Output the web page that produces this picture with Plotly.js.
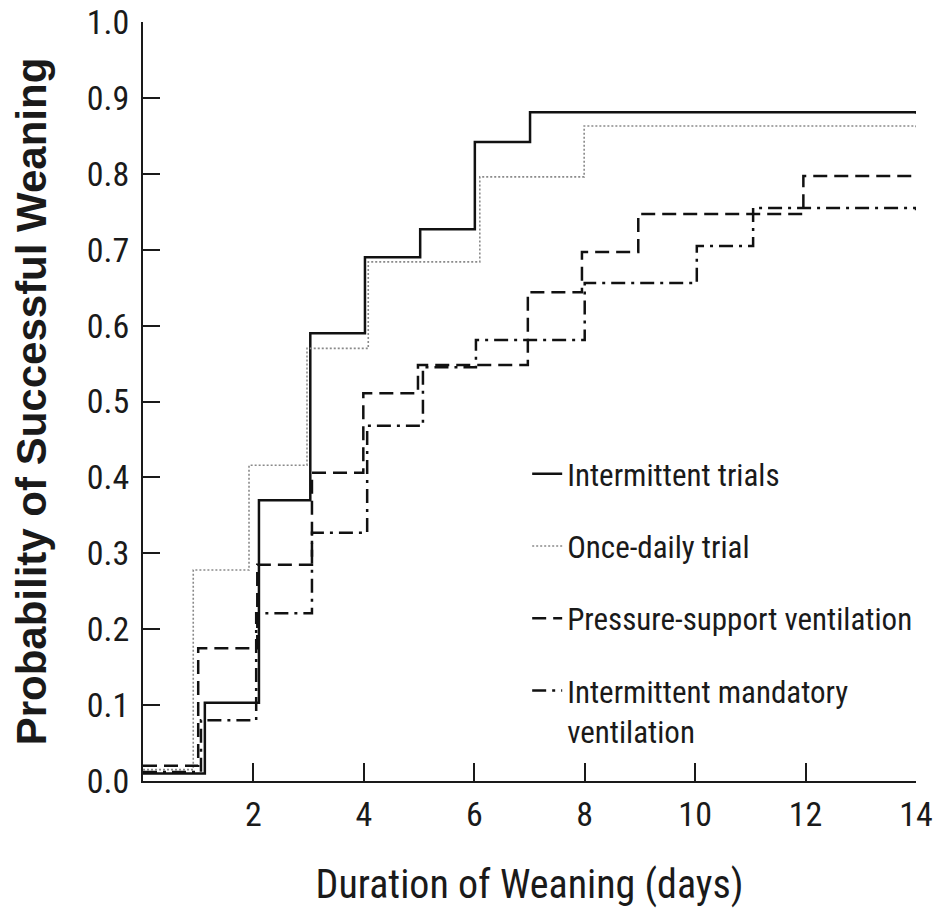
<!DOCTYPE html>
<html>
<head>
<meta charset="utf-8">
<script src="https://cdn.plot.ly/plotly-3.0.1.min.js"></script>
<style>
  html, body { margin: 0; padding: 0; background: #fff; }
  #chart { width: 943px; height: 921px; }
</style>
</head>
<body>
<div id="chart"></div>
<script>
// Kaplan-Meier style step data (days, probability)
const itDays  = [0, 1.12, 2.1, 3.03, 4.02, 5.02, 6.01, 7.01, 14];
const itProb  = [0.01, 0.103, 0.37, 0.59, 0.69, 0.727, 0.842, 0.881, 0.879];

const odDays  = [0, 0.91, 1.92, 2.97, 4.08, 6.1, 7.99, 14];
const odProb  = [0.015, 0.278, 0.416, 0.57, 0.684, 0.796, 0.863, 0.861];

const psvDays = [0, 1.0, 2.07, 3.06, 3.99, 4.98, 6.97, 7.95, 8.97, 11.96, 14];
const psvProb = [0.02, 0.175, 0.285, 0.406, 0.511, 0.548, 0.644, 0.697, 0.747, 0.797, 0.797];

const imvDays = [0, 1.05, 2.05, 3.06, 4.06, 5.07, 6.03, 8.0, 10.03, 11.05, 14];
const imvProb = [0.012, 0.08, 0.221, 0.327, 0.468, 0.545, 0.581, 0.656, 0.705, 0.755, 0.752];

const seriesNames = ["Intermittent trials", "Once-daily trial", "Pressure-support ventilation", "Intermittent mandatory<br>ventilation"];

const xTickVals = [2, 4, 6, 8, 10, 12, 14];
const xTickText = ["2", "4", "6", "8", "10", "12", "14"];
const yTickVals = [0, 0.1, 0.2, 0.3, 0.4, 0.5, 0.6, 0.7, 0.8, 0.9, 1.0];
const yTickText = ["0.0", "0.1", "0.2", "0.3", "0.4", "0.5", "0.6", "0.7", "0.8", "0.9", "1.0"];

const narrow = '"Roboto Condensed", "DejaVu Sans Condensed", sans-serif';
const ink = '#1a1a1a';

const traces = [
  { x: itDays,  y: itProb,  name: seriesNames[0], legendgroup: 'a',
    line: { shape: 'hv', color: '#111', width: 2.5, dash: 'solid' } },
  { x: odDays,  y: odProb,  name: seriesNames[1], legendgroup: 'b',
    line: { shape: 'hv', color: '#8a8a8a', width: 1.6, dash: '2px,2px' } },
  { x: psvDays, y: psvProb, name: seriesNames[2], legendgroup: 'c',
    line: { shape: 'hv', color: '#111', width: 2.5, dash: '14px,7px' } },
  { x: imvDays, y: imvProb, name: seriesNames[3], legendgroup: 'd',
    line: { shape: 'hv', color: '#111', width: 2.5, dash: '14px,6px,3px,6px' } }
].map(t => Object.assign({ type: 'scatter', mode: 'lines', hoverinfo: 'skip' }, t));

const layout = {
  width: 943, height: 921,
  margin: { l: 143, r: 27, t: 22, b: 140 },
  paper_bgcolor: '#fff', plot_bgcolor: '#fff',
  showlegend: true,
  legend: {
    x: 0.497, xanchor: 'left', y: 0.44, yanchor: 'top',
    traceorder: 'grouped', tracegroupgap: 29, valign: 'top',
    bgcolor: 'rgba(0,0,0,0)',
    font: { family: narrow, size: 31, color: ink }
  },
  xaxis: {
    range: [0, 14], tickmode: 'array', tickvals: xTickVals, ticktext: xTickText,
    showline: true, linecolor: ink, linewidth: 2,
    ticks: 'inside', ticklen: 18, tickwidth: 2, tickcolor: ink,
    showgrid: false, zeroline: false, ticklabelstandoff: 2,
    tickfont: { family: narrow, size: 34, color: ink },
    title: { text: 'Duration of Weaning (days)', standoff: 37,
             font: { family: narrow, size: 40, color: ink } }
  },
  yaxis: {
    range: [0, 1], tickmode: 'array', tickvals: yTickVals, ticktext: yTickText,
    showline: true, linecolor: ink, linewidth: 2,
    ticks: 'inside', ticklen: 17, tickwidth: 2, tickcolor: ink,
    showgrid: false, zeroline: false, ticklabelstandoff: 5,
    tickfont: { family: narrow, size: 34, color: ink },
    title: { text: 'Probability of Successful Weaning', standoff: 27,
             font: { family: '"Liberation Sans", Arial, sans-serif', size: 42, weight: 'bold', color: ink } }
  }
};

Plotly.newPlot('chart', traces, layout, { staticPlot: true, displayModeBar: false });
</script>
</body>
</html>
